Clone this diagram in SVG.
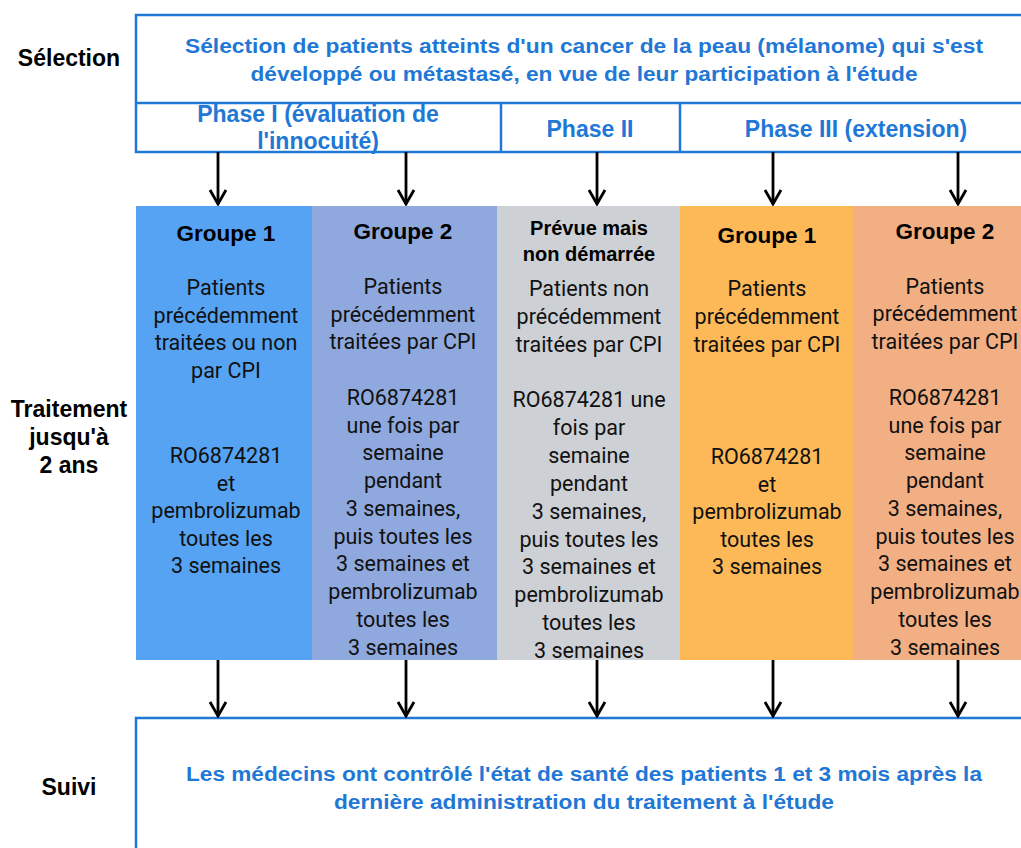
<svg xmlns="http://www.w3.org/2000/svg" width="1021" height="848" viewBox="0 0 1021 848">
<defs>
<style>
.lab{font-family:"Liberation Sans",Arial,sans-serif;font-weight:bold;font-size:23px;fill:#000;text-anchor:middle}
.blue{font-family:"Liberation Sans",Arial,sans-serif;font-weight:bold;font-size:20px;fill:#1F78D6;text-anchor:middle}
.ph{font-family:"Liberation Sans",Arial,sans-serif;font-weight:bold;font-size:23px;fill:#1F78D6;text-anchor:middle}
.hd{font-family:"Liberation Sans",Arial,sans-serif;font-weight:bold;font-size:22.5px;fill:#000;text-anchor:middle}
.hds{font-family:"Liberation Sans",Arial,sans-serif;font-weight:bold;font-size:20px;fill:#000;text-anchor:middle}
.bd{font-family:Roboto,"Liberation Sans",sans-serif;font-size:21.5px;fill:#111;text-anchor:middle}
.box{fill:#fff;stroke:#1F78D6;stroke-width:2.5}
.ln{stroke:#1F78D6;stroke-width:2.5;fill:none}
.arr{stroke:#000;stroke-width:2.8;fill:none;marker-end:url(#ah)}
</style>
<marker id="ah" viewBox="0 0 17 20" refX="15.5" refY="10" markerWidth="17" markerHeight="20" markerUnits="userSpaceOnUse" orient="auto">
<path d="M1.5,2 L15.5,10 L1.5,18" fill="none" stroke="#000" stroke-width="2.8" stroke-linejoin="miter"/>
</marker>
</defs>

<g id="labels">
<text class="lab" x="69" y="66">Sélection</text>
<text class="lab" x="69" y="417">Traitement</text>
<text class="lab" x="69" y="445">jusqu'à</text>
<text class="lab" x="69" y="473">2 ans</text>
<text class="lab" x="69" y="795">Suivi</text>
</g>

<g id="selection">
<rect class="box" x="136" y="15" width="900" height="137"/>
<line class="ln" x1="136" y1="103" x2="1030" y2="103"/>
<line class="ln" x1="501" y1="103" x2="501" y2="152"/>
<line class="ln" x1="680" y1="103" x2="680" y2="152"/>
<text class="blue" x="584" y="53" textLength="798" lengthAdjust="spacingAndGlyphs">Sélection de patients atteints d'un cancer de la peau (mélanome) qui s'est</text>
<text class="blue" x="584" y="81" textLength="667" lengthAdjust="spacingAndGlyphs">développé ou métastasé, en vue de leur participation à l'étude</text>
</g>

<g id="phase1">
<text class="ph" x="318" y="122">Phase I (évaluation de</text>
<text class="ph" x="318" y="149">l'innocuité)</text>
</g>
<g id="phase2">
<text class="ph" x="590" y="137">Phase II</text>
</g>
<g id="phase3">
<text class="ph" x="856" y="137">Phase III (extension)</text>
</g>

<g id="p1g1">
<rect x="136" y="206" width="176" height="454" fill="#55A3F2"/>
<text class="hd" x="226" y="241">Groupe 1</text>
<text class="bd" x="226" y="295">Patients</text>
<text class="bd" x="226" y="323">précédemment</text>
<text class="bd" x="226" y="350">traitées ou non</text>
<text class="bd" x="226" y="378">par CPI</text>
<text class="bd" x="226" y="463">RO6874281</text>
<text class="bd" x="226" y="491">et</text>
<text class="bd" x="226" y="518">pembrolizumab</text>
<text class="bd" x="226" y="546">toutes les</text>
<text class="bd" x="226" y="573">3 semaines</text>
</g>

<g id="p1g2">
<rect x="312" y="206" width="185" height="454" fill="#8FA8DD"/>
<text class="hd" x="403" y="239">Groupe 2</text>
<text class="bd" x="403" y="294">Patients</text>
<text class="bd" x="403" y="322">précédemment</text>
<text class="bd" x="403" y="349">traitées par CPI</text>
<text class="bd" x="403" y="405">RO6874281</text>
<text class="bd" x="403" y="433">une fois par</text>
<text class="bd" x="403" y="460">semaine</text>
<text class="bd" x="403" y="488">pendant</text>
<text class="bd" x="403" y="516">3 semaines,</text>
<text class="bd" x="403" y="544">puis toutes les</text>
<text class="bd" x="403" y="571">3 semaines et</text>
<text class="bd" x="403" y="599">pembrolizumab</text>
<text class="bd" x="403" y="627">toutes les</text>
<text class="bd" x="403" y="655">3 semaines</text>
</g>

<g id="p2">
<rect x="497" y="206" width="183" height="454" fill="#CDD0D5"/>
<text class="hds" x="589" y="235">Prévue mais</text>
<text class="hds" x="589" y="261">non démarrée</text>
<text class="bd" x="589" y="296">Patients non</text>
<text class="bd" x="589" y="324">précédemment</text>
<text class="bd" x="589" y="352">traitées par CPI</text>
<text class="bd" x="589" y="407">RO6874281 une</text>
<text class="bd" x="589" y="435">fois par</text>
<text class="bd" x="589" y="463">semaine</text>
<text class="bd" x="589" y="491">pendant</text>
<text class="bd" x="589" y="519">3 semaines,</text>
<text class="bd" x="589" y="547">puis toutes les</text>
<text class="bd" x="589" y="574">3 semaines et</text>
<text class="bd" x="589" y="602">pembrolizumab</text>
<text class="bd" x="589" y="630">toutes les</text>
<text class="bd" x="589" y="658">3 semaines</text>
</g>

<g id="p3g1">
<rect x="680" y="206" width="173" height="454" fill="#FDB957"/>
<text class="hd" x="767" y="243">Groupe 1</text>
<text class="bd" x="767" y="296">Patients</text>
<text class="bd" x="767" y="324">précédemment</text>
<text class="bd" x="767" y="352">traitées par CPI</text>
<text class="bd" x="767" y="464">RO6874281</text>
<text class="bd" x="767" y="492">et</text>
<text class="bd" x="767" y="519">pembrolizumab</text>
<text class="bd" x="767" y="547">toutes les</text>
<text class="bd" x="767" y="574">3 semaines</text>
</g>

<g id="p3g2">
<rect x="853" y="206" width="168" height="454" fill="#F2AF84"/>
<text class="hd" x="945" y="239">Groupe 2</text>
<text class="bd" x="945" y="294">Patients</text>
<text class="bd" x="945" y="321">précédemment</text>
<text class="bd" x="945" y="349">traitées par CPI</text>
<text class="bd" x="945" y="405">RO6874281</text>
<text class="bd" x="945" y="433">une fois par</text>
<text class="bd" x="945" y="460">semaine</text>
<text class="bd" x="945" y="488">pendant</text>
<text class="bd" x="945" y="516">3 semaines,</text>
<text class="bd" x="945" y="544">puis toutes les</text>
<text class="bd" x="945" y="571">3 semaines et</text>
<text class="bd" x="945" y="599">pembrolizumab</text>
<text class="bd" x="945" y="627">toutes les</text>
<text class="bd" x="945" y="655">3 semaines</text>
</g>

<g id="suivi">
<rect class="box" x="136" y="718" width="900" height="200"/>
<text class="blue" x="584" y="781" textLength="796" lengthAdjust="spacingAndGlyphs">Les médecins ont contrôlé l'état de santé des patients 1 et 3 mois après la</text>
<text class="blue" x="584" y="809" textLength="500" lengthAdjust="spacingAndGlyphs">dernière administration du traitement à l'étude</text>
</g>

<g id="connectors">
<line class="arr" x1="218" y1="152" x2="218" y2="204"/>
<line class="arr" x1="406" y1="152" x2="406" y2="204"/>
<line class="arr" x1="597" y1="152" x2="597" y2="204"/>
<line class="arr" x1="773" y1="152" x2="773" y2="204"/>
<line class="arr" x1="958" y1="152" x2="958" y2="204"/>
<line class="arr" x1="218" y1="660" x2="218" y2="716"/>
<line class="arr" x1="406" y1="660" x2="406" y2="716"/>
<line class="arr" x1="597" y1="660" x2="597" y2="716"/>
<line class="arr" x1="773" y1="660" x2="773" y2="716"/>
<line class="arr" x1="958" y1="660" x2="958" y2="716"/>
</g>
</svg>
